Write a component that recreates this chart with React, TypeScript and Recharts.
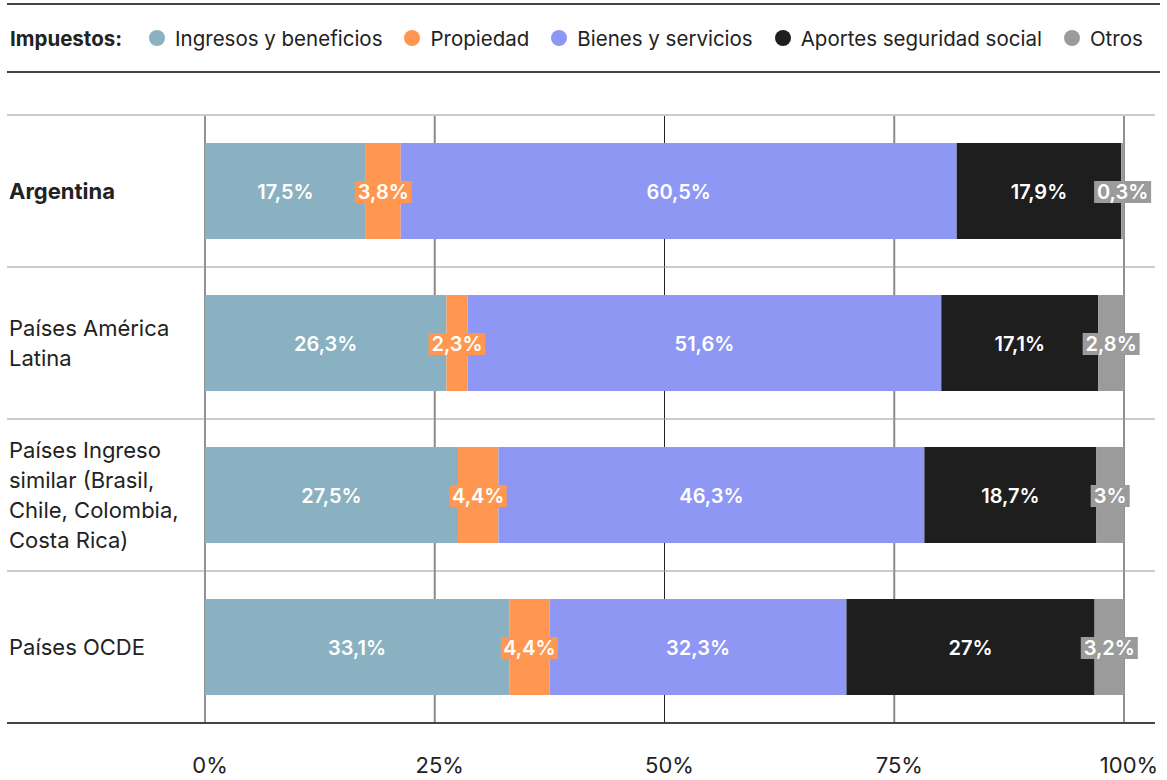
import React from "react";
import { BarChart, Bar, XAxis, YAxis, CartesianGrid, LabelList } from "recharts";

// ---------- data ----------
const categories = [
  "Argentina",
  "Países América Latina",
  "Países Ingreso similar (Brasil, Chile, Colombia, Costa Rica)",
  "Países OCDE",
];
const categoryLines = [
  ["Argentina"],
  ["Países América", "Latina"],
  ["Países Ingreso", "similar (Brasil,", "Chile, Colombia,", "Costa Rica)"],
  ["Países OCDE"],
];
const seriesNames = [
  "Ingresos y beneficios",
  "Propiedad",
  "Bienes y servicios",
  "Aportes seguridad social",
  "Otros",
];
const ingresos = [17.5, 26.3, 27.5, 33.1];
const propiedad = [3.8, 2.3, 4.4, 4.4];
const bienes = [60.5, 51.6, 46.3, 32.3];
const aportes = [17.9, 17.1, 18.7, 27];
const otros = [0.3, 2.8, 3, 3.2];
const xTicks = [0, 0.25, 0.5, 0.75, 1];
const xTickLabels = ["0%", "25%", "50%", "75%", "100%"];
const legendTitle = "Impuestos:";

// ---------- styles ----------
const seriesKeys = ["ingresos", "propiedad", "bienes", "aportes", "otros"];
const seriesValues = [ingresos, propiedad, bienes, aportes, otros];
const colors = ["#89B1C1", "#FF9751", "#8E98F4", "#1E1E1E", "#9B9B9B"];
const boxed = [false, true, false, false, true];
const darkGrid = [0, 0.5, 1];
const lightGrid = [0.25, 0.75];

const W = 1167;
const H = 780;
const TOP = 115;
const XAXIS_H = 57;
const BAND = (H - TOP - XAXIS_H) / categories.length;
const FONT = "Inter, 'Noto Sans', sans-serif";

const data = categories.map((name, i) => {
  const row: any = { name };
  seriesKeys.forEach((k, s) => {
    row[k] = seriesValues[s][i];
  });
  return row;
});

const fmt = (v: any) => `${String(v).replace(".", ",")}%`;

const makeLabel = (s: number) => (props: any) => {
  const { x, y, width, height, value } = props;
  const cx = Number(x) + Number(width) / 2;
  const cy = Number(y) + Number(height) / 2 + 1;
  const text = fmt(value);
  const t = (
    <text
      x={cx}
      y={cy + 7}
      textAnchor="middle"
      fill="#ffffff"
      fontSize={20}
      fontWeight={600}
      fontFamily={FONT}
    >
      {text}
    </text>
  );
  if (boxed[s]) {
    const bw = 9 * text.length + 21;
    return (
      <g>
        <rect x={cx - bw / 2} y={cy - 11} width={bw} height={22} fill={colors[s]} />
        {t}
      </g>
    );
  }
  return t;
};

const YTick = (props: any) => {
  const { y, payload } = props;
  const i = categories.indexOf(payload.value);
  const lines = categoryLines[i] || [payload.value];
  const half = BAND / 2;
  const last = i === categories.length - 1;
  return (
    <g>
      {i === 0 && (
        <line x1={7} x2={1155} y1={y - half} y2={y - half} stroke="#cccccc" strokeWidth={2} />
      )}
      <line
        x1={7}
        x2={1155}
        y1={y + half}
        y2={y + half}
        stroke={last ? "#444444" : "#9a9a9a"}
        strokeWidth={last ? 2 : 1.2}
      />
      {lines.map((l, j) => (
        <text
          key={j}
          x={9}
          y={y + (j - (lines.length - 1) / 2) * 30 + 8}
          fontSize={22}
          fontWeight={i === 0 ? 700 : 400}
          fill="#222222"
          fontFamily={FONT}
        >
          {l}
        </text>
      ))}
    </g>
  );
};

const XTick = (props: any) => {
  const { x, y, payload } = props;
  const idx = xTicks.indexOf(payload.value);
  return (
    <text
      x={x + 5}
      y={y + 50}
      textAnchor="middle"
      fontSize={22}
      fill="#222222"
      fontFamily={FONT}
    >
      {xTickLabels[idx]}
    </text>
  );
};

const gridGen = (vals: number[]) => (p: any) => {
  const { xAxis, offset } = p || {};
  return vals.map((v) =>
    xAxis && typeof xAxis.scale === "function"
      ? xAxis.scale(v)
      : offset.left + offset.width * v
  );
};

export default function App() {
  return (
    <div
      style={{
        position: "absolute",
        left: 0,
        top: 0,
        width: W,
        height: H,
        fontFamily: FONT,
        background: "#ffffff",
      }}
    >
      <div
        style={{
          position: "absolute",
          left: 7,
          top: 3,
          width: 1153,
          height: 66,
          borderTop: "2px solid #444",
          borderBottom: "2px solid #444",
          display: "flex",
          alignItems: "center",
          boxSizing: "content-box",
          color: "#222",
          fontSize: 20.5,
          whiteSpace: "nowrap",
          overflow: "visible",
        }}
      >
        <span style={{ fontWeight: 700, marginLeft: 3, marginRight: 27, flexShrink: 0 }}>
          {legendTitle}
        </span>
        {seriesNames.map((n, s) => (
          <span
            key={n}
            style={{
              display: "flex",
              alignItems: "center",
              marginRight: s === seriesNames.length - 1 ? 0 : 22,
              flexShrink: 0,
              whiteSpace: "nowrap",
            }}
          >
            <span
              style={{
                display: "inline-block",
                width: 16,
                height: 16,
                borderRadius: 8,
                background: colors[s],
                marginRight: 10,
                flexShrink: 0,
              }}
            />
            {n}
          </span>
        ))}
      </div>
      <BarChart
        width={W}
        height={H}
        data={data}
        layout="vertical"
        stackOffset="expand"
        margin={{ top: TOP, right: 43, bottom: 0, left: 7 }}
        style={{ position: "absolute", left: 0, top: 0 }}
      >
        <CartesianGrid
          horizontal={false}
          stroke="#8a8a8a"
          strokeWidth={2}
          verticalCoordinatesGenerator={gridGen(lightGrid)}
        />
        <CartesianGrid
          horizontal={false}
          stroke="#222222"
          strokeWidth={1}
          verticalCoordinatesGenerator={gridGen(darkGrid)}
        />
        <XAxis
          type="number"
          domain={[0, 1]}
          ticks={xTicks}
          height={XAXIS_H}
          axisLine={false}
          tickLine={false}
          tickSize={0}
          tickMargin={0}
          tick={<XTick />}
          interval={0}
        />
        <YAxis
          type="category"
          dataKey="name"
          width={198}
          axisLine={false}
          tickLine={false}
          tick={<YTick />}
          interval={0}
        />
        {seriesKeys.map((k, s) => (
          <Bar
            key={k}
            dataKey={k}
            name={seriesNames[s]}
            stackId="a"
            fill={colors[s]}
            barSize={96}
            isAnimationActive={false}
          >
            <LabelList dataKey={k} content={makeLabel(s)} />
          </Bar>
        ))}
      </BarChart>
    </div>
  );
}
